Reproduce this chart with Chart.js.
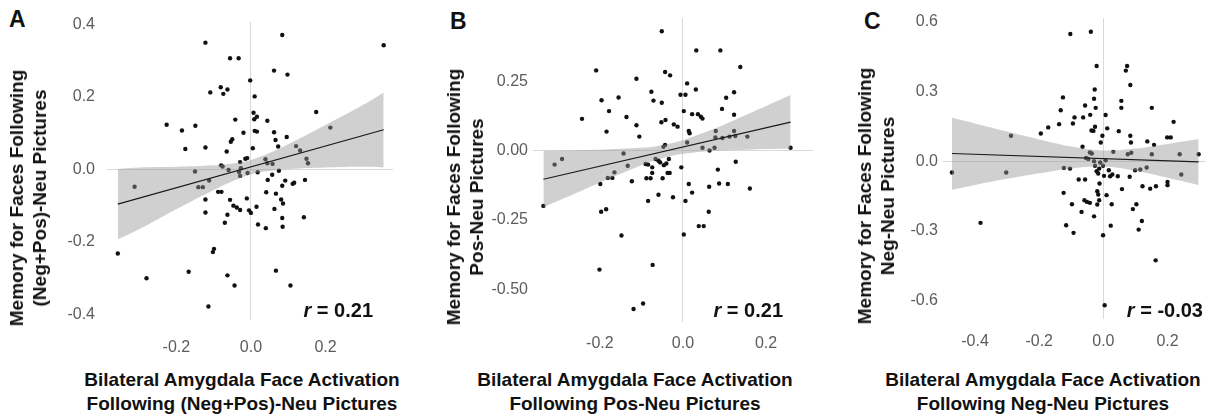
<!DOCTYPE html>
<html>
<head>
<meta charset="utf-8">
<script src="https://cdn.jsdelivr.net/npm/chart.js@4.4.1/dist/chart.umd.min.js"></script>
<style>
  body { margin: 0; background: #fff; }
  #fig { position: relative; width: 1210px; height: 416px; overflow: hidden; font-family: 'Liberation Sans', Arial, sans-serif; color: #111; }
  canvas { position: absolute; top: 0; }
  .letter { position: absolute; font-weight: bold; font-size: 23px; line-height: 23px; }
  .rval { position: absolute; font-weight: bold; font-size: 20px; line-height: 20px; text-align: right; white-space: nowrap; }
  .rval i { font-style: italic; }
  .xt { position: absolute; font-weight: bold; font-size: 19px; line-height: 24px; text-align: center; white-space: nowrap; transform: translateX(-50%); }
  .yt { position: absolute; font-weight: bold; font-size: 19px; line-height: 23px; text-align: center; white-space: nowrap; transform: translate(-50%, -50%) rotate(-90deg); }
</style>
</head>
<body>
<div id="fig">
  <canvas id="chartA" width="350" height="360" style="left:47px"></canvas>
  <canvas id="chartB" width="344" height="362" style="left:473px"></canvas>
  <canvas id="chartC" width="327" height="359" style="left:883px"></canvas>

  <div class="letter" style="left:9px;top:8px">A</div>
  <div class="letter" style="left:450px;top:10px">B</div>
  <div class="letter" style="left:864px;top:10px">C</div>

  <div class="yt" style="left:28px;top:198px">Memory for Faces Following<br>(Neg+Pos)-Neu Pictures</div>
  <div class="yt" style="left:465px;top:197px">Memory for Faces Following<br>Pos-Neu Pictures</div>
  <div class="yt" style="left:876px;top:196px">Memory for Faces Following<br>Neg-Neu Pictures</div>

  <div class="rval" style="right:837px;top:300px"><i>r</i> = 0.21</div>
  <div class="rval" style="right:427px;top:300px"><i>r</i> = 0.21</div>
  <div class="rval" style="right:7px;top:300px"><i>r</i> = -0.03</div>

  <div class="xt" style="left:242px;top:368px">Bilateral Amygdala Face Activation<br>Following (Neg+Pos)-Neu Pictures</div>
  <div class="xt" style="left:635px;top:368px">Bilateral Amygdala Face Activation<br>Following Pos-Neu Pictures</div>
  <div class="xt" style="left:1043px;top:368px">Bilateral Amygdala Face Activation<br>Following Neg-Neu Pictures</div>
</div>

<script>
// ---- panel A: (Neg+Pos)-Neu ----
const aX = [0.356, 0.084, -0.122, -0.056, -0.033, 0.062, 0.098, -0.002, -0.109, -0.081, -0.063, -0.074, 0.010,
  0.175, 0.007, 0.016, 0.009, -0.042, 0.044, -0.226, -0.149, -0.185, -0.020, 0.010, 0.016, 0.062, 0.213, 0.096,
  0.066, -0.050, -0.054, -0.176, -0.122, -0.065, 0.005, 0.073, 0.121, 0.132, 0.149, 0.153, -0.150, -0.080, -0.076,
  -0.060, -0.029, -0.015, -0.010, -0.027, -0.032, -0.029, -0.009, 0.018, 0.039, 0.044, 0.058, 0.075, 0.057, 0.045,
  0.092, 0.116, 0.112, 0.145, -0.312, -0.141, -0.129, -0.112, -0.088, -0.079, -0.122, -0.056, -0.011, 0.041, 0.067,
  0.081, 0.086, 0.084, -0.047, -0.038, -0.029, -0.005, 0.000, 0.015, 0.063, -0.122, -0.063, -0.070, 0.019, 0.040,
  0.084, 0.085, 0.142, -0.099, -0.102, -0.357, -0.280, -0.167, -0.063, 0.067, -0.044, 0.106, -0.114]
const aY = [0.342, 0.370, 0.349, 0.306, 0.306, 0.272, 0.261, 0.245, 0.212, 0.226, 0.220, 0.208, 0.201,
  0.158, 0.156, 0.145, 0.138, 0.137, 0.134, 0.123, 0.120, 0.107, 0.101, 0.106, 0.104, 0.102, 0.115, 0.089,
  0.081, 0.083, 0.076, 0.056, 0.060, 0.049, 0.058, 0.063, 0.064, 0.052, 0.029, 0.017, -0.006, 0.011, 0.008,
  -0.002, 0.020, 0.029, 0.031, 0.003, -0.007, -0.018, -0.010, -0.008, 0.028, 0.017, 0.015, -0.004, -0.015, -0.029,
  -0.031, -0.037, -0.040, -0.029, -0.048, -0.049, -0.049, -0.031, -0.062, -0.062, -0.083, -0.084, -0.080, -0.063, -0.067,
  -0.083, -0.094, -0.045, -0.100, -0.105, -0.112, -0.113, -0.120, -0.103, -0.109, -0.119, -0.125, -0.147, -0.152, -0.162,
  -0.134, -0.158, -0.132, -0.219, -0.228, -0.232, -0.300, -0.282, -0.292, -0.279, -0.320, -0.320, -0.378]
const aFitX = [-0.357, 0.356]
const aFitY = [-0.096, 0.109]
const aBandX = [-0.357, -0.3, -0.2, -0.1, -0.05, 0, 0.05, 0.1, 0.2, 0.3, 0.356]
const aBandUpper = [0.001, 0.005, 0.007, 0.011, 0.016, 0.026, 0.045, 0.069, 0.122, 0.177, 0.212]
const aBandLower = [-0.193, -0.165, -0.110, -0.057, -0.033, -0.014, -0.004, 0.001, 0.005, 0.007, 0.005]
const aXTicks = [-0.2, 0, 0.2]
const aXLabels = ['-0.2', '0.0', '0.2']
const aYTicks = [-0.4, -0.2, 0, 0.2, 0.4]
const aYLabels = ['-0.4', '-0.2', '0.0', '0.2', '0.4']

// ---- panel B: Pos-Neu ----
const bX = [-0.051, 0.032, 0.090, 0.138, -0.209, -0.043, -0.031, -0.112, 0.010, -0.076, 0.031, -0.006, 0.006,
  0.123, -0.155, -0.196, -0.071, -0.051, 0.104, 0.094, -0.178, 0.002, 0.022, 0.036, 0.043, 0.047, 0.123, -0.243,
  -0.136, -0.042, -0.052, -0.022, -0.013, -0.112, -0.184, -0.105, 0.014, 0.016, 0.079, 0.078, 0.095, 0.112, 0.123,
  0.126, 0.155, 0.010, 0.047, 0.064, 0.076, 0.259, -0.047, -0.043, -0.143, -0.291, -0.309, -0.133, -0.090, -0.084,
  -0.066, -0.059, -0.055, -0.034, -0.040, -0.046, -0.004, -0.074, 0.127, 0.084, -0.165, -0.170, -0.181, -0.074,
  -0.037, -0.032, -0.088, -0.078, -0.049, -0.123, -0.199, 0.014, 0.063, 0.087, 0.108, 0.161, 0.022, -0.059, -0.024,
  -0.084, 0.006, -0.336, -0.197, -0.185, 0.062, 0.038, 0.050, 0.002, -0.148, -0.073, -0.201, -0.096, -0.119]
const bY = [0.431, 0.362, 0.362, 0.302, 0.290, 0.284, 0.272, 0.260, 0.243, 0.213, 0.221, 0.202, 0.202,
  0.211, 0.192, 0.182, 0.181, 0.173, 0.191, 0.151, 0.143, 0.143, 0.132, 0.132, 0.123, 0.116, 0.130, 0.115,
  0.122, 0.111, 0.103, 0.095, 0.087, 0.092, 0.069, 0.051, 0.071, 0.063, 0.071, 0.048, 0.046, 0.051, 0.071,
  0.053, 0.051, 0.030, 0.011, 0.001, 0.011, 0.011, 0.014, 0.021, -0.010, -0.030, -0.050, -0.054, -0.048, -0.050,
  -0.030, -0.036, -0.042, -0.030, -0.046, -0.052, -0.060, -0.060, -0.040, -0.068, -0.078, -0.098, -0.098, -0.080,
  -0.080, -0.080, -0.099, -0.099, -0.099, -0.110, -0.120, -0.120, -0.130, -0.118, -0.120, -0.136, -0.151, -0.159, -0.168,
  -0.181, -0.181, -0.199, -0.220, -0.211, -0.220, -0.272, -0.272, -0.302, -0.306, -0.412, -0.429, -0.551, -0.571]
const bFitX = [-0.336, 0.259]
const bFitY = [-0.103, 0.103]
const bBandX = [-0.336, -0.25, -0.15, -0.05, 0.05, 0.15, 0.259]
const bBandUpper = [0.000, 0.002, 0.007, 0.020, 0.065, 0.128, 0.201]
const bBandLower = [-0.204, -0.148, -0.083, -0.027, -0.003, 0.004, 0.008]
const bXTicks = [-0.2, 0, 0.2]
const bXLabels = ['-0.2', '0.0', '0.2']
const bYTicks = [-0.5, -0.25, 0, 0.25]
const bYLabels = ['-0.50', '-0.25', '0.00', '0.25']

// ---- panel C: Neg-Neu ----
const cX = [-0.039, -0.103, -0.021, 0.074, 0.070, 0.084, -0.027, -0.126, -0.029, 0.056, -0.057, -0.024, 0.056,
  0.151, -0.133, -0.041, 0.007, -0.090, -0.063, -0.138, -0.095, -0.172, -0.195, -0.026, -0.037, -0.031, 0.012,
  0.048, 0.219, 0.199, 0.210, -0.288, -0.003, 0.084, 0.086, -0.008, 0.137, 0.158, -0.065, 0.031, 0.076, 0.087,
  0.151, 0.238, 0.297, -0.042, -0.036, -0.054, -0.047, -0.029, 0.007, -0.010, -0.123, -0.104, -0.026, -0.013,
  -0.001, -0.021, -0.016, 0.017, 0.099, 0.115, 0.135, 0.243, -0.472, -0.303, 0.002, 0.021, 0.028, 0.045, 0.082,
  -0.077, -0.057, -0.012, 0.058, 0.122, 0.146, 0.164, 0.200, 0.200, -0.124, -0.019, -0.016, 0.010, -0.098, -0.059,
  -0.051, -0.042, -0.013, 0.026, -0.019, 0.103, 0.092, -0.068, -0.029, -0.383, 0.120, -0.116, 0.023, -0.093, -0.001,
  0.110, 0.163, 0.004]
const cY = [0.556, 0.546, 0.409, 0.409, 0.389, 0.327, 0.308, 0.274, 0.268, 0.259, 0.239, 0.229, 0.229,
  0.229, 0.219, 0.199, 0.198, 0.188, 0.188, 0.159, 0.162, 0.145, 0.119, 0.148, 0.132, 0.130, 0.141,
  0.129, 0.169, 0.102, 0.102, 0.109, 0.109, 0.109, 0.080, 0.080, 0.085, 0.070, 0.062, 0.040, 0.030, 0.036,
  0.030, 0.030, 0.030, 0.037, 0.033, 0.014, 0.009, 0.000, 0.004, -0.006, -0.029, -0.032, -0.020, -0.032,
  -0.020, -0.043, -0.053, -0.039, -0.039, -0.036, -0.027, -0.057, -0.049, -0.049, -0.063, -0.065, -0.057, -0.065, -0.067,
  -0.079, -0.079, -0.096, -0.120, -0.108, -0.118, -0.108, -0.089, -0.103, -0.136, -0.129, -0.143, -0.146, -0.185, -0.168,
  -0.175, -0.179, -0.168, -0.185, -0.186, -0.185, -0.206, -0.218, -0.237, -0.265, -0.257, -0.275, -0.277, -0.308, -0.318,
  -0.294, -0.426, -0.619]
const cFitX = [-0.472, 0.297]
const cFitY = [0.033, -0.003]
const cBandX = [-0.472, -0.4, -0.3, -0.2, -0.1, 0, 0.1, 0.2, 0.297]
const cBandUpper = [0.186, 0.162, 0.127, 0.093, 0.063, 0.046, 0.054, 0.074, 0.095]
const cBandLower = [-0.123, -0.102, -0.076, -0.052, -0.031, -0.023, -0.041, -0.071, -0.102]
const cXTicks = [-0.4, -0.2, 0, 0.2]
const cXLabels = ['-0.4', '-0.2', '0.0', '0.2']
const cYTicks = [-0.6, -0.3, 0, 0.3, 0.6]
const cYLabels = ['-0.6', '-0.3', '0.0', '0.3', '0.6']

const toPoints = (xs, ys) => xs.map((x, i) => ({ x: x, y: ys[i] }))

function makePanel(canvasId, p) {
  const canvas = document.getElementById(canvasId)
  const tickFont = { family: "'Liberation Sans', Arial, sans-serif", size: 16 }
  const zeroGrid = {
    color: (c) => (c.tick && c.tick.value === 0 ? '#d9d9d9' : 'rgba(0,0,0,0)'),
    lineWidth: 1,
    drawTicks: false,
  }

  return new Chart(canvas, {
    type: 'scatter',
    data: {
      datasets: [
        {
          type: 'line',
          data: toPoints(p.fitX, p.fitY),
          borderColor: '#1a1a1a',
          borderWidth: 1.2,
          pointRadius: 0,
          fill: false,
          order: 1,
        },
        {
          type: 'line',
          data: toPoints(p.bandX, p.bandUpper),
          borderWidth: 0,
          pointRadius: 0,
          tension: 0.4,
          fill: '+1',
          backgroundColor: 'rgba(150,150,150,0.45)',
          order: 2,
        },
        {
          type: 'line',
          data: toPoints(p.bandX, p.bandLower),
          borderWidth: 0,
          pointRadius: 0,
          tension: 0.4,
          fill: false,
          order: 2,
        },
        {
          data: toPoints(p.xs, p.ys),
          backgroundColor: '#111',
          borderWidth: 0,
          pointRadius: 2.2,
          order: 3,
        },
      ],
    },
    options: {
      responsive: false,
      animation: false,
      devicePixelRatio: 1,
      layout: { padding: { top: p.padTop, right: p.padRight, left: 0, bottom: 0 } },
      plugins: { legend: { display: false }, tooltip: { enabled: false } },
      scales: {
        x: {
          type: 'linear',
          min: p.xMin,
          max: p.xMax,
          afterBuildTicks: (scale) => { scale.ticks = p.xTicks.map((v) => ({ value: v })) },
          afterFit: (scale) => { scale.height = 40 },
          ticks: { font: tickFont, color: '#5c5c5c', padding: p.xPad, maxRotation: 0, callback: (v, i) => p.xLabels[i] },
          grid: zeroGrid,
          border: { display: false },
        },
        y: {
          type: 'linear',
          min: p.yMin,
          max: p.yMax,
          afterBuildTicks: (scale) => { scale.ticks = p.yTicks.map((v) => ({ value: v })) },
          afterFit: (scale) => { scale.width = 60 },
          ticks: { font: tickFont, color: '#5c5c5c', padding: p.yPad, callback: (v, i) => p.yLabels[i] },
          grid: zeroGrid,
          border: { display: false },
        },
      },
    },
  })
}

makePanel('chartA', {
  xs: aX, ys: aY, fitX: aFitX, fitY: aFitY, bandX: aBandX, bandUpper: aBandUpper, bandLower: aBandLower,
  xTicks: aXTicks, xLabels: aXLabels, yTicks: aYTicks, yLabels: aYLabels,
  xMin: -0.386, xMax: 0.381, yMin: -0.415, yMax: 0.407,
  padTop: 13, padRight: 4, xPad: 18, yPad: 12,
})
makePanel('chartB', {
  xs: bX, ys: bY, fitX: bFitX, fitY: bFitY, bandX: bBandX, bandUpper: bBandUpper, bandLower: bBandLower,
  xTicks: bXTicks, xLabels: bXLabels, yTicks: bYTicks, yLabels: bYLabels,
  xMin: -0.361, xMax: 0.313, yMin: -0.618, yMax: 0.479,
  padTop: 18, padRight: 4, xPad: 12, yPad: 5,
})
makePanel('chartC', {
  xs: cX, ys: cY, fitX: cFitX, fitY: cFitY, bandX: cBandX, bandUpper: cBandUpper, bandLower: cBandLower,
  xTicks: cXTicks, xLabels: cXLabels, yTicks: cYTicks, yLabels: cYLabels,
  xMin: -0.5, xMax: 0.32, yMin: -0.678, yMax: 0.615,
  padTop: 18, padRight: 0, xPad: 13, yPad: 5,
})
</script>
</body>
</html>
